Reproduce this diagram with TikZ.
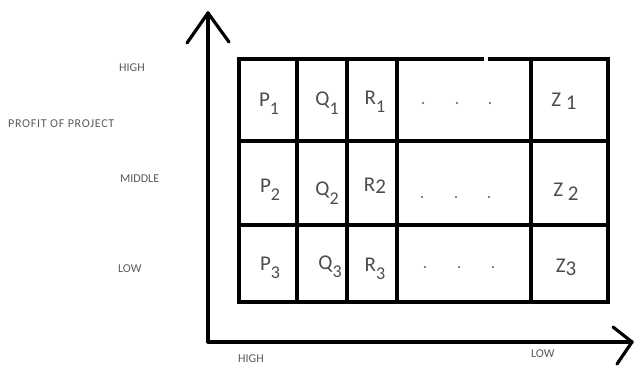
\documentclass[tikz,border=0pt]{standalone}
\usepackage{fontspec}
\setmainfont{Carlito}
\newcommand{\cellsub}[2]{#1\raisebox{-0.4em}{\fontsize{18}{18}\selectfont #2}}
\begin{document}
\begin{tikzpicture}[x=1pt,y=-1pt,
  axis/.style={line width=3.2pt,line cap=round,line join=round},
  grid/.style={line width=4pt,line cap=rect},
  entry/.style={text=black!70,font=\fontsize{21}{21}\selectfont,inner sep=0pt},
  dotmark/.style={circle,fill=black!65,inner sep=0pt,minimum size=2.4pt},
  tag/.style={text=black!65,font=\fontsize{12}{12}\selectfont,inner sep=0pt,anchor=west}]
\useasboundingbox (0,0) rectangle (634,369);

% axes
\coordinate (O) at (208,342);
\coordinate (ytop) at (208,13);
\coordinate (xend) at (632,342);
\draw[axis] (O) -- (ytop);
\draw[axis] (187,43) -- (ytop) -- (229,42);
\draw[axis] (O) -- (xend);
\draw[axis] (613,327) -- (xend) -- (617,364);

% grid
\draw[grid] (239,59) -- (482,59);
\draw[grid] (490,59) -- (608,59);
\draw[grid] (239,141) -- (608,141);
\draw[grid] (239,225) -- (608,225);
\draw[grid] (239,302) -- (608,302);
\foreach \gx in {239,297,347,397,531,608}
  \draw[grid] (\gx,59) -- (\gx,302);

% row 1
\node[entry] (p1) at (269,104) {\cellsub{P}{1}};
\node[entry] (q1) at (327,103) {\cellsub{Q}{1}};
\node[entry] (r1) at (375,102) {\cellsub{R}{1}};
\node[dotmark] (d11) at (423,103) {};
\node[dotmark] (d12) at (457,103) {};
\node[dotmark] (d13) at (490,103) {};
\node[entry] (z1) at (564,101) {Z \raisebox{-0.15em}{1}};

% row 2
\node[entry] (p2) at (270,190) {\cellsub{P}{2}};
\node[entry] (q2) at (327,193) {\cellsub{Q}{2}};
\node[entry] (r2) at (375,186) {R\raisebox{-0.1em}{2}};
\node[dotmark] (d21) at (422,197) {};
\node[dotmark] (d22) at (456,197) {};
\node[dotmark] (d23) at (489,197) {};
\node[entry] (z2) at (566,192) {Z \raisebox{-0.2em}{2}};

% row 3
\node[entry] (p3) at (270,268) {\cellsub{P}{3}};
\node[entry] (q3) at (330,267) {\cellsub{Q}{3}};
\node[entry] (r3) at (375,269) {\cellsub{R}{3}};
\node[dotmark] (d31) at (425,267) {};
\node[dotmark] (d32) at (459,267) {};
\node[dotmark] (d33) at (493,267) {};
\node[entry] (z3) at (566,267) {Z\raisebox{-0.15em}{3}};

% axis labels
\node[tag] (yhigh) at (119,68) {HIGH};
\node[tag,font=\fontsize{12}{12}\selectfont\addfontfeature{LetterSpace=6}] (ytitle) at (8,124) {PROFIT OF PROJECT};
\node[tag] (ymid) at (120,179) {MIDDLE};
\node[tag] (ylow) at (118,269) {LOW};
\node[tag] (xhigh) at (238,359) {HIGH};
\node[tag] (xlow) at (531,354) {LOW};
\end{tikzpicture}
\end{document}
